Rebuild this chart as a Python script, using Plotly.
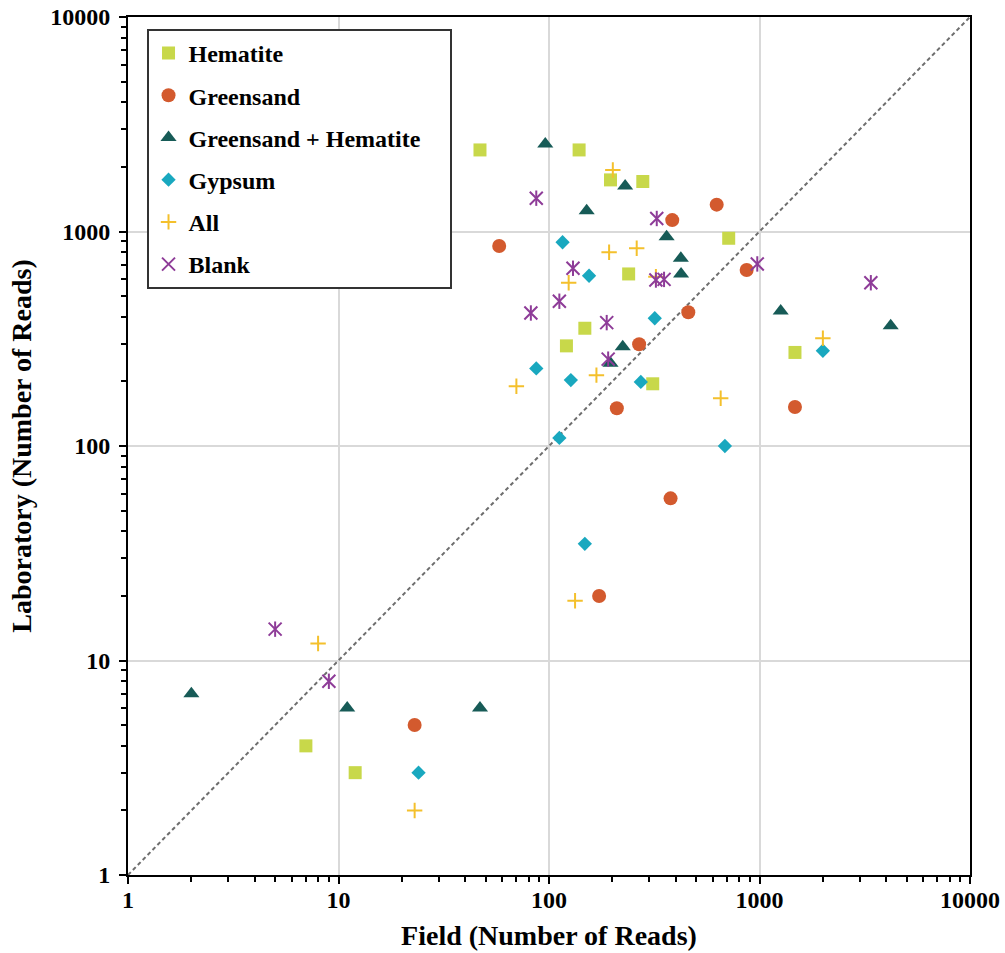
import plotly.graph_objects as go

# ---- data ----
hematite_x = [47, 139, 196, 279, 714, 239, 148, 121, 311, 1474, 7, 12]
hematite_y = [2400, 2400, 1740, 1710, 930, 634, 354, 293, 195, 273, 4, 3]

greensand_x = [58, 385, 626, 869, 459, 268, 210, 1474, 378, 173, 23]
greensand_y = [856, 1130, 1334, 661, 420, 298, 150, 152, 57, 20, 5]

gh_x = [96, 230, 151, 362, 423, 424, 224, 196, 1261, 4200, 2, 11, 47]
gh_y = [2560, 1630, 1250, 946, 750, 634, 290, 243, 426, 364, 7, 6, 6]

gypsum_x = [116, 155, 318, 87, 127, 273, 2000, 112, 685, 148, 24]
gypsum_y = [891, 622, 394, 230, 203, 199, 278, 109, 100, 35, 3]

all_x = [201, 193, 261, 124, 322, 70, 168, 654, 2000, 133, 8, 23]
all_y = [1935, 800, 835, 577, 615, 190, 214, 167, 318, 19, 12, 2]

blank_x = [87, 325, 130, 112, 82, 322, 352, 188, 191, 976, 3380, 5, 9]
blank_y = [1430, 1150, 674, 473, 417, 594, 598, 376, 254, 706, 577, 14, 8]

one_to_one = [1, 10000]

tick_vals = [1, 10, 100, 1000, 10000]
tick_text = ["1", "10", "100", "1000", "10000"]
minor_vals = [m * 10 ** e for e in range(4) for m in range(2, 10)]

FONT = "Liberation Serif"
PAD = "\u00a0" * 4  # widens the legend box like the reference

fig = go.Figure()

fig.add_trace(go.Scatter(
    x=one_to_one, y=one_to_one, mode="lines",
    line=dict(color="#6e6e6e", width=2, dash="4px,3px"),
    showlegend=False, hoverinfo="skip"))

series = [
    ("Hematite", hematite_x, hematite_y, dict(symbol="square", size=13, color="#c8d84a")),
    ("Greensand", greensand_x, greensand_y, dict(symbol="circle", size=14, color="#d35a2e")),
    ("Greensand + Hematite" + PAD, gh_x, gh_y, dict(symbol="triangle-up", size=14, color="#175b57")),
    ("Gypsum", gypsum_x, gypsum_y, dict(symbol="diamond", size=11, color="#19a8bf")),
    ("All", all_x, all_y, dict(symbol="cross-thin", size=11, color="#f4c02c",
                               line=dict(color="#f4c02c", width=2))),
    ("Blank", blank_x, blank_y, dict(symbol="x-thin", size=13, color="#8e3c98",
                                     line=dict(color="#8e3c98", width=2))),
]
for name, xs, ys, mk in series:
    fig.add_trace(go.Scatter(x=xs, y=ys, mode="markers", name=name,
                             legendgroup=name, marker=mk))

# vertical stroke of the Blank star marker
fig.add_trace(go.Scatter(x=blank_x, y=blank_y, mode="markers", name="Blank",
                         legendgroup="Blank", showlegend=False,
                         marker=dict(symbol="line-ns", size=11, color="#8e3c98",
                                     line=dict(color="#8e3c98", width=2))))

axis_common = dict(
    type="log", range=[0, 4],
    tickmode="array", tickvals=tick_vals, ticktext=tick_text,
    ticks="outside", ticklen=7, tickwidth=2, tickcolor="black",
    minor=dict(tickmode="array", tickvals=minor_vals, ticks="outside",
               ticklen=5, tickwidth=1.5, tickcolor="black", showgrid=False),
    showline=True, linecolor="black", linewidth=2, mirror=True,
    showgrid=True, gridcolor="#d9d9d9", gridwidth=1.5,
    zeroline=False,
    tickfont=dict(family=FONT, size=24, color="black", weight="bold"),
)

fig.update_layout(
    width=1005, height=953,
    margin=dict(l=128, r=35, t=17, b=78, autoexpand=False),
    paper_bgcolor="white", plot_bgcolor="white",
    xaxis=dict(axis_common, ticklabelstandoff=-5,
               title=dict(text="Field (Number of Reads)", standoff=14,
                          font=dict(family=FONT, size=28, color="black", weight="bold"))),
    yaxis=dict(axis_common, ticklabelstandoff=4,
               title=dict(text="Laboratory (Number of Reads)", standoff=10,
                          font=dict(family=FONT, size=28, color="black", weight="bold"))),
    xaxis2=dict(type="log", range=[0, 4], overlaying="x", anchor="y", side="bottom",
                tickmode="array", tickvals=tick_vals, ticks="inside", ticklen=7,
                tickwidth=2, tickcolor="black", showticklabels=False,
                showgrid=False, showline=False, zeroline=False),
    yaxis2=dict(type="log", range=[0, 4], overlaying="y", anchor="x", side="left",
                tickmode="array", tickvals=tick_vals, ticks="inside", ticklen=7,
                tickwidth=2, tickcolor="black", showticklabels=False,
                showgrid=False, showline=False, zeroline=False),
    legend=dict(x=0.022, y=0.986, xanchor="left", yanchor="top",
                bgcolor="white", bordercolor="#333333", borderwidth=2,
                tracegroupgap=8,
                font=dict(family=FONT, size=24, color="black", weight="bold")),
    showlegend=True,
)

fig.write_html("out.html")
